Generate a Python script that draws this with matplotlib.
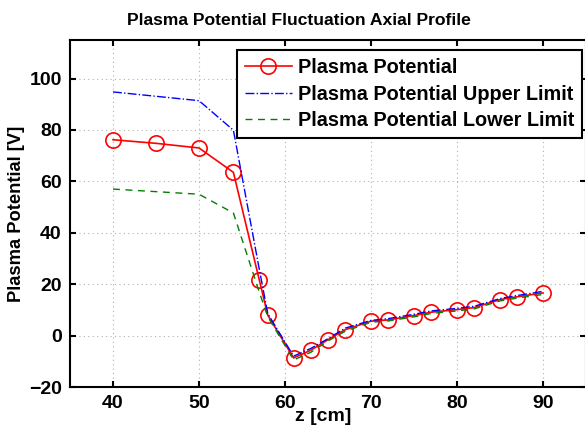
import matplotlib
matplotlib.use("Agg")
import matplotlib.pyplot as plt

# Datos
z_cm = [40, 45, 50, 54, 57, 58, 61, 63, 65, 67, 70, 72, 75, 77, 80, 82, 85, 87, 90]
potencial = [76.2, 74.8, 73.0, 63.5, 21.8, 7.9, -8.7, -5.7, -1.6, 2.3, 5.6, 6.1,
             7.8, 9.1, 10.1, 10.9, 14.0, 15.1, 16.6]
limite_sup = [94.8, 93.1, 91.4, 79.9, 26.0, 8.5, -8.0, -5.0, -1.2, 2.9, 5.9, 6.6,
              8.3, 9.6, 10.6, 11.4, 14.4, 15.6, 17.2]
limite_inf = [57.0, 56.0, 55.0, 47.7, 17.0, 7.3, -9.5, -6.5, -2.1, 1.7, 5.2, 5.7,
              7.3, 8.6, 9.6, 10.4, 13.5, 14.6, 16.0]

plt.rcParams['font.family'] = ['Liberation Sans', 'DejaVu Sans']
plt.rcParams['font.weight'] = 'bold'

fig = plt.figure(figsize=(5.85, 4.33), dpi=100)
ax = fig.add_axes([70 / 585, 46 / 433, 516 / 585, 347 / 433])

ax.plot(z_cm, potencial, color='red', lw=1.2, marker='o', ms=11,
        mfc='none', mec='red', mew=1.2, label='Plasma Potential')
ax.plot(z_cm, limite_sup, color='blue', lw=1.0, ls='-.', label='Plasma Potential Upper Limit')
ax.plot(z_cm, limite_inf, color='green', lw=1.0, ls=(0, (5, 4)), label='Plasma Potential Lower Limit')

ax.set_xlim(35, 95)
ax.set_ylim(-20, 115)
ax.set_xticks([40, 50, 60, 70, 80, 90])
ax.set_yticks([-20, 0, 20, 40, 60, 80, 100])
ax.yaxis.set_major_formatter(matplotlib.ticker.FuncFormatter(lambda v, p: f"{v:.0f}".replace('-', '\u2212')))

ax.grid(True, color='#b0b0b0', ls=(0, (1, 3)), lw=0.8)
ax.tick_params(direction='in', top=True, right=True, length=4, width=1.5, labelsize=14, pad=6)
for lab in ax.get_xticklabels() + ax.get_yticklabels():
    lab.set_fontweight('bold')
for s in ax.spines.values():
    s.set_linewidth(1.5)

ax.set_xlabel('z [cm]', fontsize=14, fontweight='bold')
ax.xaxis.set_label_coords(0.49, -0.06, transform=ax.transAxes)
ax.set_ylabel('Plasma Potential [V]', fontsize=13.2, fontweight='bold', labelpad=3)
ax.set_title('Plasma Potential Fluctuation Axial Profile', fontsize=12.6, fontweight='bold',
             pad=11, x=0.444)

leg = ax.legend(loc='upper right', bbox_to_anchor=(0.992, 0.971), fontsize=14.3, fancybox=False,
                edgecolor='black', framealpha=1, borderpad=0.4, labelspacing=0.38,
                handlelength=2.35, handletextpad=0.3, borderaxespad=0)
leg.get_frame().set_linewidth(1.5)
for t in leg.get_texts():
    t.set_fontweight('bold')

plt.savefig('out.png', dpi=100)
